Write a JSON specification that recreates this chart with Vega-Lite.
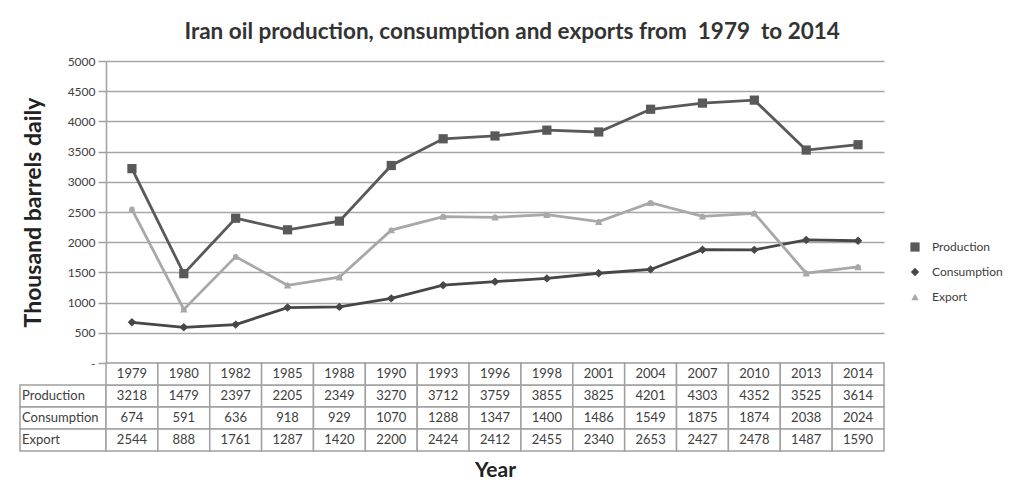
{
  "$schema": "https://vega.github.io/schema/vega-lite/v6.json",
  "padding": {"left": 19, "top": 20, "right": 5, "bottom": 5},
  "background": "white",
  "title": {
    "text": "Iran oil production, consumption and exports from\u00a0 1979\u00a0 to 2014",
    "fontSize": 22.5, "fontWeight": "bold", "font": "Lato", "color": "#333333",
    "anchor": "middle", "offset": 12, "dx": 1
  },
  "config": {
    "view": {"stroke": null},
    "font": "Lato",
    "concat": {"spacing": 0}
  },
  "datasets": {
    "oil": [
      {"year": "1979", "series": "Production", "value": 3218},
      {"year": "1980", "series": "Production", "value": 1479},
      {"year": "1982", "series": "Production", "value": 2397},
      {"year": "1985", "series": "Production", "value": 2205},
      {"year": "1988", "series": "Production", "value": 2349},
      {"year": "1990", "series": "Production", "value": 3270},
      {"year": "1993", "series": "Production", "value": 3712},
      {"year": "1996", "series": "Production", "value": 3759},
      {"year": "1998", "series": "Production", "value": 3855},
      {"year": "2001", "series": "Production", "value": 3825},
      {"year": "2004", "series": "Production", "value": 4201},
      {"year": "2007", "series": "Production", "value": 4303},
      {"year": "2010", "series": "Production", "value": 4352},
      {"year": "2013", "series": "Production", "value": 3525},
      {"year": "2014", "series": "Production", "value": 3614},
      {"year": "1979", "series": "Consumption", "value": 674},
      {"year": "1980", "series": "Consumption", "value": 591},
      {"year": "1982", "series": "Consumption", "value": 636},
      {"year": "1985", "series": "Consumption", "value": 918},
      {"year": "1988", "series": "Consumption", "value": 929},
      {"year": "1990", "series": "Consumption", "value": 1070},
      {"year": "1993", "series": "Consumption", "value": 1288},
      {"year": "1996", "series": "Consumption", "value": 1347},
      {"year": "1998", "series": "Consumption", "value": 1400},
      {"year": "2001", "series": "Consumption", "value": 1486},
      {"year": "2004", "series": "Consumption", "value": 1549},
      {"year": "2007", "series": "Consumption", "value": 1875},
      {"year": "2010", "series": "Consumption", "value": 1874},
      {"year": "2013", "series": "Consumption", "value": 2038},
      {"year": "2014", "series": "Consumption", "value": 2024},
      {"year": "1979", "series": "Export", "value": 2544},
      {"year": "1980", "series": "Export", "value": 888},
      {"year": "1982", "series": "Export", "value": 1761},
      {"year": "1985", "series": "Export", "value": 1287},
      {"year": "1988", "series": "Export", "value": 1420},
      {"year": "1990", "series": "Export", "value": 2200},
      {"year": "1993", "series": "Export", "value": 2424},
      {"year": "1996", "series": "Export", "value": 2412},
      {"year": "1998", "series": "Export", "value": 2455},
      {"year": "2001", "series": "Export", "value": 2340},
      {"year": "2004", "series": "Export", "value": 2653},
      {"year": "2007", "series": "Export", "value": 2427},
      {"year": "2010", "series": "Export", "value": 2478},
      {"year": "2013", "series": "Export", "value": 1487},
      {"year": "2014", "series": "Export", "value": 1590}
    ]
  },
  "columns": 2,
  "bounds": "flush",
  "spacing": 0,
  "concat": [
    {
      "width": 86, "height": 302,
      "data": {"values": []},
      "mark": "point",
      "encoding": {}
    },
    {
      "width": 778, "height": 302,
      "data": {"name": "oil"},
      "encoding": {
        "x": {"field": "year", "type": "ordinal", "sort": null,
              "scale": {"type": "point", "padding": 0.5}, "axis": null},
        "y": {"field": "value", "type": "quantitative",
              "scale": {"domain": [0, 5000], "nice": false, "zero": true},
              "axis": {
                "values": [0, 500, 1000, 1500, 2000, 2500, 3000, 3500, 4000, 4500, 5000],
                "format": "d",
                "labelExpr": "datum.value == 0 ? '-' : datum.label",
                "title": "Thousand barrels daily",
                "titleFontSize": 23, "titleFontWeight": "bold", "titleColor": "#222222",
                "titlePadding": 22,
                "labelFontSize": 12, "labelColor": "#404040", "labelPadding": 3,
                "tickColor": "#a0a0a0", "tickSize": 8, "tickWidth": 1.5,
                "domainColor": "#a0a0a0", "domainWidth": 1.5,
                "grid": true, "gridColor": "#a6a6a6", "gridWidth": 1.5
              }},
        "color": {"field": "series", "type": "nominal",
                  "scale": {"domain": ["Production", "Consumption", "Export"],
                            "range": ["#595959", "#474747", "#a8a8a8"]},
                  "legend": {"title": null, "orient": "none", "legendX": 889, "legendY": 180,
                             "labelFontSize": 12, "labelColor": "#404040", "rowPadding": 13,
                             "labelOffset": 11,
                             "symbolSize": 80, "symbolStrokeWidth": 0}},
        "shape": {"field": "series", "type": "nominal",
                  "scale": {"domain": ["Production", "Consumption", "Export"],
                            "range": ["square", "diamond", "triangle-up"]}}
      },
      "layer": [
        {"mark": {"type": "line", "strokeWidth": 2.8}, "encoding": {"shape": {"value": "circle"}}},
        {"mark": {"type": "point", "filled": true, "opacity": 1},
         "encoding": {"size": {"field": "series", "type": "nominal",
                               "scale": {"domain": ["Production", "Consumption", "Export"], "range": [85, 55, 85]},
                               "legend": null}}}
      ]
    },
    {
      "width": 86, "height": 88,
      "data": {"values": [{"series": "Production"}, {"series": "Consumption"}, {"series": "Export"}]},
      "encoding": {
        "y": {"field": "series", "type": "nominal",
              "scale": {"domain": ["header", "Production", "Consumption", "Export"], "paddingInner": 0, "paddingOuter": 0},
              "axis": null}
      },
      "layer": [
        {"mark": {"type": "rect", "fill": "white", "stroke": "#a0a0a0", "strokeWidth": 1.5}},
        {"mark": {"type": "text", "align": "left", "dx": -41, "fontSize": 13, "color": "#404040"},
         "encoding": {"text": {"field": "series"}}}
      ]
    },
    {
      "width": 778, "height": 88,
      "data": {"name": "oil"},
      "encoding": {
        "x": {"field": "year", "type": "ordinal", "sort": null,
              "scale": {"paddingInner": 0, "paddingOuter": 0},
              "axis": {"title": "Year", "labels": false, "ticks": false, "domain": false,
                       "titleFontSize": 21, "titleFontWeight": "bold", "titleColor": "#222222", "titlePadding": 8}},
        "y": {"field": "series", "type": "nominal",
              "scale": {"domain": ["header", "Production", "Consumption", "Export"], "paddingInner": 0, "paddingOuter": 0},
              "axis": null}
      },
      "layer": [
        {"mark": {"type": "rect", "fill": "white", "stroke": "#a0a0a0", "strokeWidth": 1.5}},
        {"transform": [{"filter": "datum.series == 'Production'"}],
         "mark": {"type": "rect", "fill": "white", "stroke": "#a0a0a0", "strokeWidth": 1.5},
         "encoding": {"y": {"datum": "header"}}},
        {"mark": {"type": "text", "fontSize": 13, "color": "#404040"},
         "encoding": {"text": {"field": "value", "type": "quantitative", "format": "d"}}},
        {"transform": [{"filter": "datum.series == 'Production'"}],
         "mark": {"type": "text", "fontSize": 13, "color": "#404040"},
         "encoding": {"y": {"datum": "header"}, "text": {"field": "year"}}}
      ]
    }
  ]
}
